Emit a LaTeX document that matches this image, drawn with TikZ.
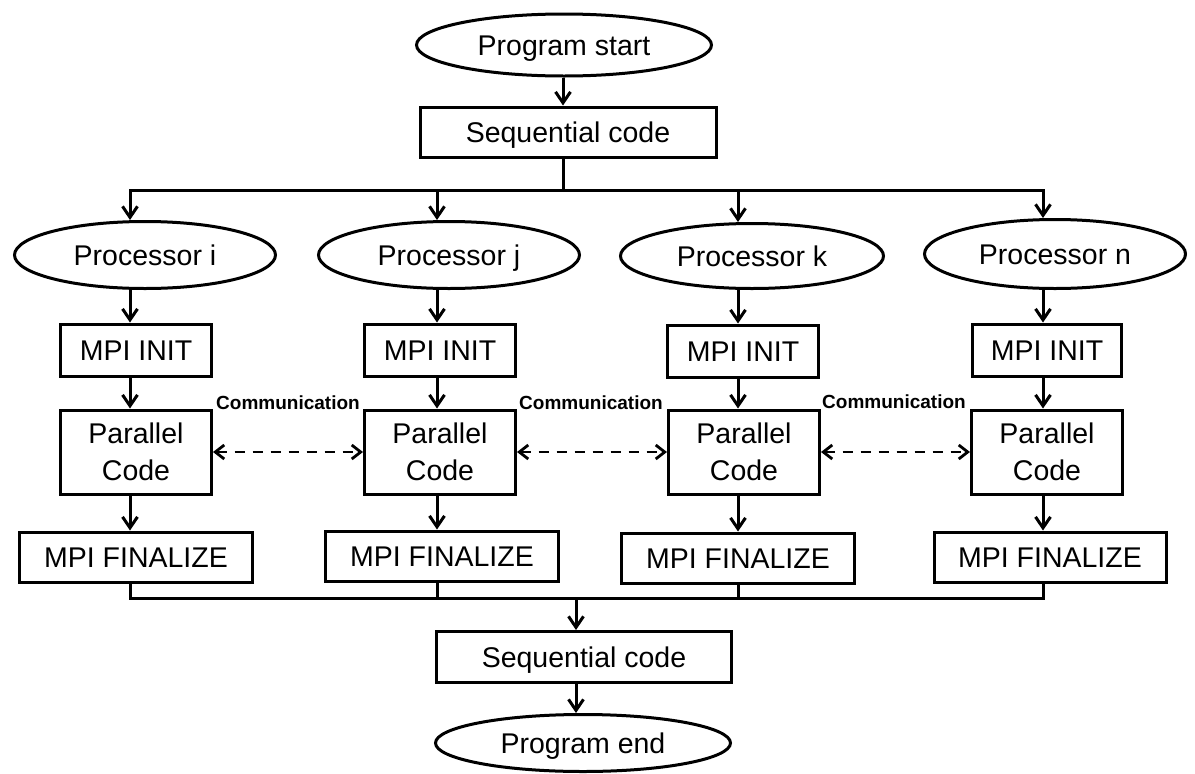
\documentclass[tikz,border=0pt]{standalone}
\usepackage{fontspec}
\setmainfont{Liberation Sans}
\usetikzlibrary{shapes.geometric,arrows.meta}
\begin{document}
\begin{tikzpicture}[x=1pt,y=-1pt,
  line width=3pt,
  box/.style={draw, rectangle, inner sep=0pt, align=center, font=\fontsize{28.5}{37}\selectfont},
  one/.style={text height=20.4pt, text depth=0pt},
  oval/.style={draw, ellipse, inner sep=0pt, one, font=\fontsize{28.5}{33}\selectfont},
  arr/.style={-{Straight Barb[length=11pt,width=15pt,line width=3pt]}},
  comm/.style={line width=2.8pt, dash pattern=on 10pt off 8pt,
    {Straight Barb[length=9pt,width=14pt,line width=2.8pt]}-{Straight Barb[length=9pt,width=14pt,line width=2.8pt]}},
  lbl/.style={font=\bfseries\fontsize{19}{22}\selectfont, inner sep=0pt}
]
\useasboundingbox (0,0) rectangle (1195,774);

% column coordinates
\coordinate (ctop) at (563,0);
\coordinate (ci) at (130,0);
\coordinate (cj) at (437,0);
\coordinate (ck) at (738,0);
\coordinate (cn) at (1043,0);
\coordinate (cb) at (576,0);
\coordinate (tl) at (0,190);
\coordinate (bl) at (0,598);

% nodes
\node[oval, minimum width=295pt, minimum height=62pt] (ps) at (564,45) {Program start};
\node[box, one, minimum width=296pt, minimum height=50pt] (sc1) at (568,132) {Sequential code};

\node[oval, minimum width=261pt, minimum height=67pt] (pi) at (145,255) {Processor i};
\node[oval, minimum width=261pt, minimum height=67pt] (pj) at (449,255) {Processor j};
\node[oval, minimum width=263pt, minimum height=65pt] (pk) at (752,256) {Processor k};
\node[oval, minimum width=261pt, minimum height=69pt] (pn) at (1055,254) {Processor n};

\node[box, one, minimum width=151pt, minimum height=52pt] (ii) at (136,350) {MPI INIT};
\node[box, one, minimum width=151pt, minimum height=52pt] (ij) at (440,350) {MPI INIT};
\node[box, one, minimum width=151pt, minimum height=52pt] (ik) at (743,351) {MPI INIT};
\node[box, one, minimum width=149pt, minimum height=52pt] (in) at (1047,350) {MPI INIT};

\node[box, minimum width=151pt, minimum height=84pt] (pci) at (136,452) {Parallel\\Code};
\node[box, minimum width=151pt, minimum height=84pt] (pcj) at (440,452) {Parallel\\Code};
\node[box, minimum width=151pt, minimum height=84pt] (pck) at (744,452) {Parallel\\Code};
\node[box, minimum width=151pt, minimum height=84pt] (pcn) at (1047,452) {Parallel\\Code};

\node[box, one, minimum width=233pt, minimum height=50pt] (fi) at (136,557) {MPI FINALIZE};
\node[box, one, minimum width=233pt, minimum height=50pt] (fj) at (442,556) {MPI FINALIZE};
\node[box, one, minimum width=233pt, minimum height=50pt] (fk) at (738,558) {MPI FINALIZE};
\node[box, one, minimum width=232pt, minimum height=50pt] (fn) at (1050,557) {MPI FINALIZE};

\node[box, one, minimum width=295pt, minimum height=51pt] (sc2) at (584,657) {Sequential code};
\node[oval, minimum width=295pt, minimum height=57pt] (pe) at (583,743) {Program end};

\node[lbl] (l1) at (288,403) {Communication};
\node[lbl] (l2) at (591,403) {Communication};
\node[lbl] (l3) at (894,402) {Communication};

% connectors
\draw[arr] (ps.south -| ctop) -- (sc1.north -| ctop);
\draw (sc1.south -| ctop) -- (ctop |- tl);
\draw[line cap=rect] (ci |- tl) -- (cn |- tl);
\foreach \c/\p in {ci/pi, cj/pj, ck/pk, cn/pn}
  \draw[arr] (\c |- tl) -- (\p.north -| \c);
\foreach \c/\p/\i/\q/\f in {ci/pi/ii/pci/fi, cj/pj/ij/pcj/fj, ck/pk/ik/pck/fk, cn/pn/in/pcn/fn}{
  \draw[arr] (\p.south -| \c) -- (\i.north -| \c);
  \draw[arr] (\i.south -| \c) -- (\q.north -| \c);
  \draw[arr] (\q.south -| \c) -- (\f.north -| \c);
}
\draw (fi.south -| ci) -- (ci |- bl) -- (cn |- bl) -- (fn.south -| cn);
\draw (fj.south -| cj) -- (cj |- bl);
\draw (fk.south -| ck) -- (ck |- bl);
\draw[arr] (cb |- bl) -- (sc2.north -| cb);
\draw[arr] (sc2.south -| cb) -- (pe.north -| cb);

\draw[comm] (pci.east) -- (pcj.west);
\draw[comm] (pcj.east) -- (pck.west);
\draw[comm] (pck.east) -- (pcn.west);
\end{tikzpicture}
\end{document}
